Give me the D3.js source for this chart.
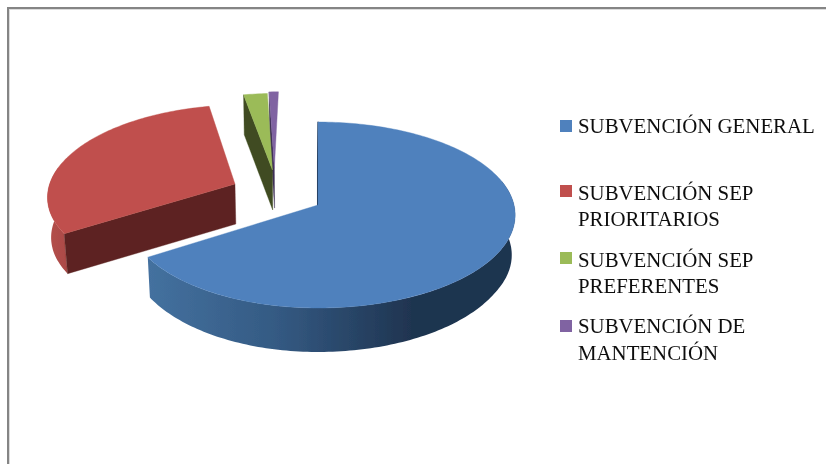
<!DOCTYPE html>
<html>
<head>
<meta charset="utf-8">
<script src="https://cdn.jsdelivr.net/npm/d3@7"></script>
<style>
html,body{margin:0;padding:0;background:#fff;overflow:hidden}
svg{display:block}
text{font-family:"Liberation Serif",serif;font-size:20.85px;fill:#111}
</style>
</head>
<body>
<svg id="c" width="826" height="464"></svg>
<script>
const categories = ["SUBVENCIÓN GENERAL", "SUBVENCIÓN SEP PRIORITARIOS", "SUBVENCIÓN SEP PREFERENTES", "SUBVENCIÓN DE MANTENCIÓN"];
const values = [66.0, 30.8, 2.3, 0.9];
const legendLines = [["SUBVENCIÓN GENERAL"], ["SUBVENCIÓN SEP", "PRIORITARIOS"], ["SUBVENCIÓN SEP", "PREFERENTES"], ["SUBVENCIÓN DE", "MANTENCIÓN"]];
const topColors = ["#4f81bd", "#c0504d", "#9bbb59", "#8064a2"];
const wallColors = ["#1f3450", "#5d2321", "#3f4c20", "#3e2f55"];
const explodeU = [0, -0.448, -0.25, -0.24];
const explodeV = [0, -0.234, -0.397, -0.42];

const svg = d3.select("#c");
const defs = svg.append("defs");
defs.append("filter").attr("id", "soft").attr("x", "-5%").attr("y", "-5%").attr("width", "110%").attr("height", "110%")
  .append("feGaussianBlur").attr("stdDeviation", 0.4);
const grad = defs.append("linearGradient").attr("id", "blueWall").attr("gradientUnits", "userSpaceOnUse")
  .attr("x1", 148).attr("x2", 515).attr("y1", 0).attr("y2", 0);
[[0, "#44719f"], [0.35, "#345a83"], [0.72, "#1f3450"], [1, "#1f3450"]].forEach(s =>
  grad.append("stop").attr("offset", s[0]).attr("stop-color", s[1]));
const gradR = defs.append("linearGradient").attr("id", "redWall").attr("gradientUnits", "userSpaceOnUse")
  .attr("x1", 46).attr("x2", 66).attr("y1", 0).attr("y2", 0);
[[0, "#b5504c"], [1, "#ab4a47"]].forEach(s =>
  gradR.append("stop").attr("offset", s[0]).attr("stop-color", s[1]));

// chart frame, open to the right and bottom of the picture
svg.append("rect").attr("x", 9.5).attr("y", 9.5).attr("width", 900).attr("height", 600).attr("fill", "none").attr("stroke", "#dcdcdc").attr("stroke-width", 1);
svg.append("rect").attr("x", 8).attr("y", 8).attr("width", 900).attr("height", 600).attr("fill", "none").attr("stroke", "#858585").attr("stroke-width", 2);

// perspective pie
const P = -0.1075;
const xScale = d3.scaleLinear().domain([-1, 0, 1]).range([128, 318, 514]);
const yScale = d3.scaleLinear().domain([0, 1]).range([205, 296.9]);
function project(u, v, bottom) {
  const w = 1 + P * v;
  let x = xScale(u / w), y = yScale(v / w);
  if (bottom) {
    x = 290 + (x - 290) * 0.985;
    y += 40 + Math.max(0, v - 0.5) * 8;
  }
  return [x, y];
}
const pie = d3.pie().sort(null).value(d => d);
const arcs = pie(values);
const line = d3.line();
function rim(a0, a1, i, bottom) {
  const pts = [];
  const n = Math.max(2, Math.ceil((a1 - a0) / 0.02));
  d3.range(n + 1).forEach(k => {
    const a = a0 + (a1 - a0) * k / n;
    pts.push(project(explodeU[i] + Math.sin(a), explodeV[i] - Math.cos(a), bottom));
  });
  return pts;
}
const apex = (i, bottom) => project(explodeU[i], explodeV[i], bottom);
const poly = (g, pts, fill, sw) => g.append("path").attr("d", line(pts) + "Z").attr("fill", fill)
  .attr("stroke", fill).attr("stroke-width", sw === undefined ? 0.4 : sw).attr("stroke-linejoin", "round");

const chart = svg.append("g").attr("filter", "url(#soft)");
[3, 2, 1, 0].forEach(i => {
  const g = chart.append("g");
  const a = arcs[i];
  // outer wall on the viewer's side
  const lo = Math.max(a.startAngle, 1.3), hi = Math.min(a.endAngle, 4.9);
  if (hi > lo) {
    const fill = i === 0 ? "url(#blueWall)" : i === 1 ? "url(#redWall)" : wallColors[i];
    g.append("path").attr("d", line(rim(lo, hi, i, false).concat(rim(lo, hi, i, true).reverse())) + "Z").attr("fill", fill);
  }
  // radial wall
  const edge = rim(a.startAngle, a.startAngle, i, false)[0];
  const edgeB = rim(a.startAngle, a.startAngle, i, true)[0];
  poly(g, [apex(i, false), edge, edgeB, apex(i, true)], wallColors[i], i === 0 ? 1.2 : 0.4);
  // top face
  poly(g, [apex(i, false)].concat(rim(a.startAngle, a.endAngle, i, false)), topColors[i]);
});

// legend
const legendTop = [120, 185, 252, 320];
const legendBase = [[132.5], [200, 226], [266.5, 293], [333, 360]];
const legend = svg.append("g").attr("filter", "url(#soft)");
categories.forEach((c, i) => {
  legend.append("rect").attr("x", 560).attr("y", legendTop[i]).attr("width", 12).attr("height", 12).attr("fill", topColors[i]);
  legendLines[i].forEach((t, j) => legend.append("text").attr("x", 578).attr("y", legendBase[i][j]).text(t));
});
</script>
</body>
</html>
